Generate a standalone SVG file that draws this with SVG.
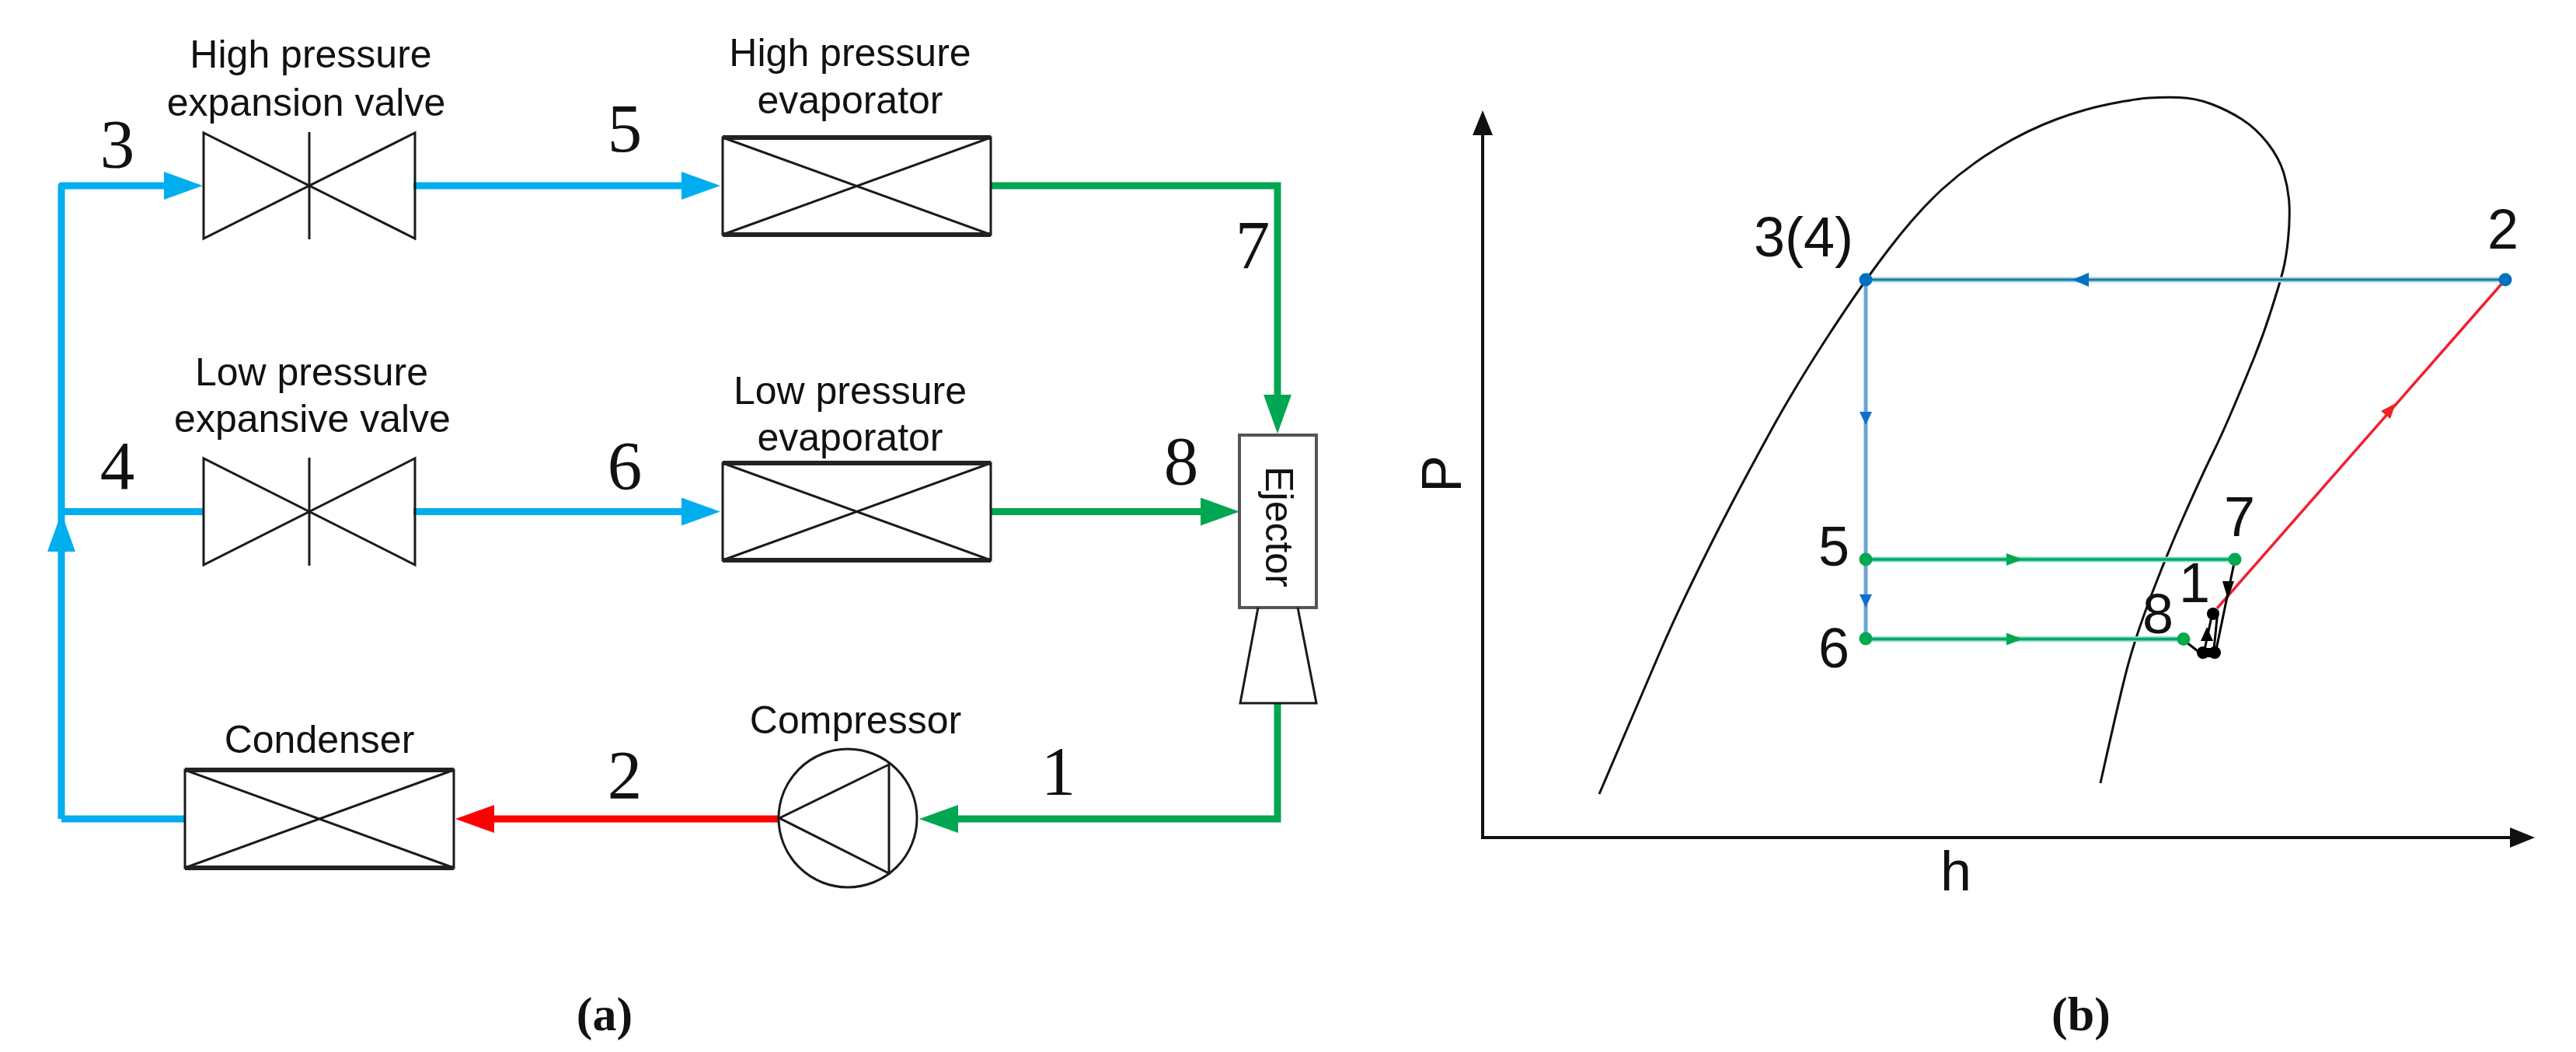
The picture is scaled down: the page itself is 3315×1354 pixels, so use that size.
<svg xmlns="http://www.w3.org/2000/svg" width="3315" height="1354" viewBox="0 0 3315 1354">
<style>
.sym{fill:#fff;stroke:#1a1a1a;stroke-width:3}
.ln{fill:none;stroke:#1a1a1a;stroke-width:3}
.thick{fill:none;stroke:#222;stroke-width:6}
.lab{font-family:"Liberation Sans",Arial,sans-serif;font-size:50px;fill:#111;text-anchor:middle}
.num{font-family:"Liberation Serif","Times New Roman",serif;font-size:89px;fill:#111;text-anchor:middle}
.sn{font-family:"Liberation Sans",Arial,sans-serif;font-size:72px;fill:#111;text-anchor:middle}
.cap{font-family:"Liberation Serif","Times New Roman",serif;font-size:62px;font-weight:bold;fill:#111;text-anchor:middle}
.b{fill:none;stroke:#00AEEF;stroke-width:9}
.g{fill:none;stroke:#00A651;stroke-width:9}
.r{fill:none;stroke:#FF0000;stroke-width:9}
.dot-b{fill:#0070C0}
.dot-g{fill:#00A84F}
.dot-k{fill:#000}
</style>
<defs>
<marker id="hb" markerUnits="userSpaceOnUse" viewBox="0 0 50 36" refX="0" refY="18" markerWidth="50" markerHeight="36" orient="auto"><path d="M0 0L50 18L0 36Z" fill="#00AEEF"/></marker>
<marker id="hg" markerUnits="userSpaceOnUse" viewBox="0 0 50 36" refX="0" refY="18" markerWidth="50" markerHeight="36" orient="auto"><path d="M0 0L50 18L0 36Z" fill="#00A651"/></marker>
<marker id="hr" markerUnits="userSpaceOnUse" viewBox="0 0 50 36" refX="0" refY="18" markerWidth="50" markerHeight="36" orient="auto"><path d="M0 0L50 18L0 36Z" fill="#FF0000"/></marker>
<marker id="ax" markerUnits="userSpaceOnUse" viewBox="0 0 32 26" refX="2" refY="13" markerWidth="32" markerHeight="26" orient="auto"><path d="M0 0L32 13L0 26Z" fill="#111"/></marker>
</defs>
<rect width="3315" height="1354" fill="#fff"/>

<g id="connectors">
<path class="b" d="M79 1054V239H211" marker-end="url(#hb)" stroke-linejoin="round"/>
<path class="b" d="M79 1054H238" stroke-linejoin="round"/>
<path class="b" d="M79 658.5H263"/>
<path class="b" d="M79 711V710" marker-end="url(#hb)"/>
<path class="b" d="M532 239H877" marker-end="url(#hb)"/>
<path class="b" d="M532 658.5H877" marker-end="url(#hb)"/>
<path class="g" d="M1274 239H1644V508" marker-end="url(#hg)"/>
<path class="g" d="M1274 658.5H1545" marker-end="url(#hg)"/>
<path class="g" d="M1644 906V1054H1233" marker-end="url(#hg)"/>
<path class="r" d="M1003 1054H636" marker-end="url(#hr)"/>
</g>

<g id="valve-high">
<path class="ln" d="M262 171V307L534 171V307Z"/><path class="ln" d="M398 170V308"/>
<text class="lab" x="400" y="87">High pressure</text>
<text class="lab" x="394" y="149">expansion valve</text>
</g>
<g id="valve-low">
<path class="ln" d="M262 590V727L534 590V727Z"/><path class="ln" d="M398 589V728"/>
<text class="lab" x="401" y="496">Low pressure</text>
<text class="lab" x="402" y="556">expansive valve</text>
</g>
<g id="evap-high">
<rect class="sym" x="930" y="177" width="345" height="125"/>
<path class="ln" d="M930 177L1275 302M930 302L1275 177"/><path class="thick" d="M930 177H1275M930 302H1275"/>
<text class="lab" x="1094" y="85">High pressure</text>
<text class="lab" x="1094" y="146">evaporator</text>
</g>
<g id="evap-low">
<rect class="sym" x="930" y="596" width="345" height="125"/>
<path class="ln" d="M930 596L1275 721M930 721L1275 596"/><path class="thick" d="M930 596H1275M930 721H1275"/>
<text class="lab" x="1094" y="520">Low pressure</text>
<text class="lab" x="1094" y="580">evaporator</text>
</g>
<g id="ejector">
<rect x="1595" y="560" width="99" height="222" fill="#fff" stroke="#555" stroke-width="4"/>
<path class="ln" d="M1619 782L1596 905H1694L1670 782"/>
<text class="lab" transform="translate(1629 678) rotate(90)" x="0" y="0">Ejector</text>
</g>
<g id="compressor">
<circle class="ln" cx="1091" cy="1053" r="89"/>
<path class="ln" d="M1144 984L1003 1053L1144 1124Z"/>
<text class="lab" x="1101" y="944">Compressor</text>
</g>
<g id="condenser">
<rect class="sym" x="238" y="991" width="346" height="126"/>
<path class="ln" d="M238 991L584 1117M238 1117L584 991"/><path class="thick" d="M238 991H584M238 1117H584"/>
<text class="lab" x="411" y="969">Condenser</text>
</g>

<g id="numbers-a">
<text class="num" x="151" y="215">3</text>
<text class="num" x="151" y="629">4</text>
<text class="num" x="804" y="195">5</text>
<text class="num" x="804" y="629">6</text>
<text class="num" x="1612" y="345">7</text>
<text class="num" x="1520" y="623">8</text>
<text class="num" x="804" y="1027">2</text>
<text class="num" x="1362" y="1022">1</text>
<text class="cap" x="778" y="1326">(a)</text>
</g>

<g id="chart">
<path d="M1908 1078V172" fill="none" stroke="#111" stroke-width="4" marker-end="url(#ax)"/>
<path d="M1906 1078H3232" fill="none" stroke="#111" stroke-width="4" marker-end="url(#ax)"/>
<path id="dome" d="M2058 1022Q2120 877 2136.5 838.5Q2153 800 2178 748.5Q2203 697 2226.5 652Q2250 607 2280 552.5Q2310 498 2351.5 434Q2393 370 2430 321.5Q2467 273 2500 243Q2533 213 2571.5 190Q2610 167 2646.5 153.5Q2683 140 2716.5 133.5Q2750 127 2766.5 126Q2783 125 2804 125.5Q2825 126 2846 134Q2867 142 2885 153.5Q2903 165 2918 184Q2933 203 2939 223Q2945 243 2946 263Q2947 283 2944.5 308Q2942 333 2937.5 350Q2933 367 2923 398.5Q2913 430 2901.5 458.5Q2890 487 2875 522.5Q2860 558 2846.5 585.5Q2833 613 2810 665Q2787 717 2767 770Q2747 823 2737 861.5Q2727 900 2703 1008" fill="none" stroke="#111" stroke-width="3"/>
<path d="M3224 360H2401" fill="none" stroke="#A5D5E5" stroke-width="7"/>
<path d="M3224 360H2401" fill="none" stroke="#1F7A9F" stroke-width="3"/>
<path d="M2401 360V822" fill="none" stroke="#6BA3D6" stroke-width="5"/>
<path d="M2401 720H2877M2401 822.500H2809" fill="none" stroke="#8FE0C0" stroke-width="7"/>
<path d="M2401 720H2877M2401 822.500H2809" fill="none" stroke="#00A86B" stroke-width="3.500"/>
<path d="M3224 360L2853 783" fill="none" stroke="#F0202F" stroke-width="3.500"/>
<path d="M2876 720L2852 836M2854 786L2849 836M2847 789L2836 841M2809 823L2832 841" fill="none" stroke="#000" stroke-width="3"/>
<path d="M2667 360L2688 351V369Z" fill="#0070C0"/>
<path d="M2401 547L2393 530H2409Z" fill="#0F6FCF"/>
<path d="M2401 782L2393 765H2409Z" fill="#0F6FCF"/>
<path d="M2603 720L2582 712V728Z" fill="#00A84F"/>
<path d="M2603 822.500L2582 814.500V830.500Z" fill="#00A84F"/>
<path d="M3083 519L3076 539L3064 529Z" fill="#E22"/>
<path d="M2867 771L2860 748H2875Z" fill="#000"/>
<path d="M2840 807L2832 825H2848Z" fill="#000"/>
<circle class="dot-b" cx="2401" cy="360" r="8.500"/><circle class="dot-b" cx="3224" cy="360" r="8.500"/>
<circle class="dot-g" cx="2401" cy="720" r="8.500"/><circle class="dot-g" cx="2876" cy="720" r="8.500"/>
<circle class="dot-g" cx="2401" cy="822" r="8.500"/><circle class="dot-g" cx="2810" cy="822.500" r="8.500"/>
<circle class="dot-k" cx="2848" cy="790" r="8"/><circle class="dot-k" cx="2835" cy="840" r="8"/><circle class="dot-k" cx="2850" cy="840" r="8"/>
<rect class="dot-k" x="2835" y="834" width="15" height="12"/>
<text class="sn" x="2321" y="330">3(4)</text>
<text class="sn" x="3221" y="320">2</text>
<text class="sn" x="2360" y="728">5</text>
<text class="sn" x="2360" y="859">6</text>
<text class="sn" x="2882" y="690">7</text>
<text class="sn" x="2824" y="775">1</text>
<text class="sn" x="2777" y="815">8</text>
<text class="sn" transform="translate(1880 610) rotate(-90)" x="0" y="0">P</text>
<text class="sn" x="2517" y="1146">h</text>
<text class="cap" x="2678" y="1326">(b)</text>
</g>
</svg>
